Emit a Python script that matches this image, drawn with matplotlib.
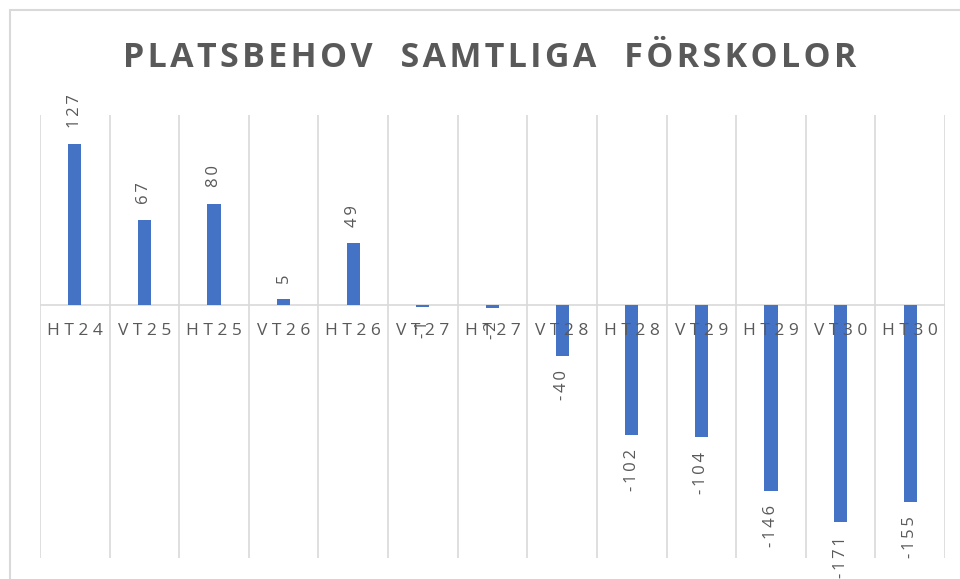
import matplotlib.pyplot as plt
from matplotlib.patches import Rectangle

categories = ['HT24', 'VT25', 'HT25', 'VT26', 'HT26', 'VT27', 'HT27',
              'VT28', 'HT28', 'VT29', 'HT29', 'VT30', 'HT30']
values = [127, 67, 80, 5, 49, -1, -2, -40, -102, -104, -146, -171, -155]
title = 'PLATSBEHOV  SAMTLIGA  FÖRSKOLOR'

bar_color = '#4472c4'
text_color = '#595959'
grid_color = '#d9d9d9'

fig = plt.figure(figsize=(9.6, 5.79), dpi=100)
ax = fig.add_axes([40 / 960, 1 - 558 / 579, 905 / 960, 443 / 579])

# outer chart border (right and bottom edges fall outside the picture)
fig.patches.append(Rectangle((10 / 960, -0.1), 1.1, 1.1 - 10 / 579, transform=fig.transFigure,
                             fill=False, edgecolor='#d9d9d9', linewidth=1.5))

x = list(range(len(categories)))
ax.bar(x, values, width=0.19, color=bar_color, zorder=3)

ax.set_xlim(-0.5, len(categories) - 0.5)
ax.set_ylim(-199, 150)

# vertical gridlines between categories
for i in range(len(categories) + 1):
    ax.axvline(i - 0.5, color=grid_color, linewidth=1.2, zorder=1)
ax.axhline(0, color=grid_color, linewidth=1.2, zorder=2)

for s in ax.spines.values():
    s.set_visible(False)
ax.set_xticks([])
ax.set_yticks([])

# category labels along the zero line
for i, c in enumerate(categories):
    ax.text(i, -14, ' '.join(c), ha='center', va='top', fontsize=12.5,
            color=text_color, family='Open Sans', zorder=4)

# data labels
for i, v in enumerate(values):
    lab = '\u2009'.join(str(v))
    if v >= 0:
        ax.text(i, v + 13, lab, ha='center', va='bottom', rotation=90,
                fontsize=12, color=text_color, family='Open Sans', zorder=4)
    else:
        ax.text(i, v - 11, lab, ha='center', va='top', rotation=90,
                fontsize=12, color=text_color, family='Open Sans', zorder=4)

# letter-spaced title
spaced = '\u200a'.join(title)
fig.text(490 / 960, 1 - 58 / 579, spaced,
         ha='center', va='center', fontsize=24.5, fontweight='bold',
         color=text_color, family=['Open Sans', 'DejaVu Sans'])

fig.savefig('out.png', dpi=100)
